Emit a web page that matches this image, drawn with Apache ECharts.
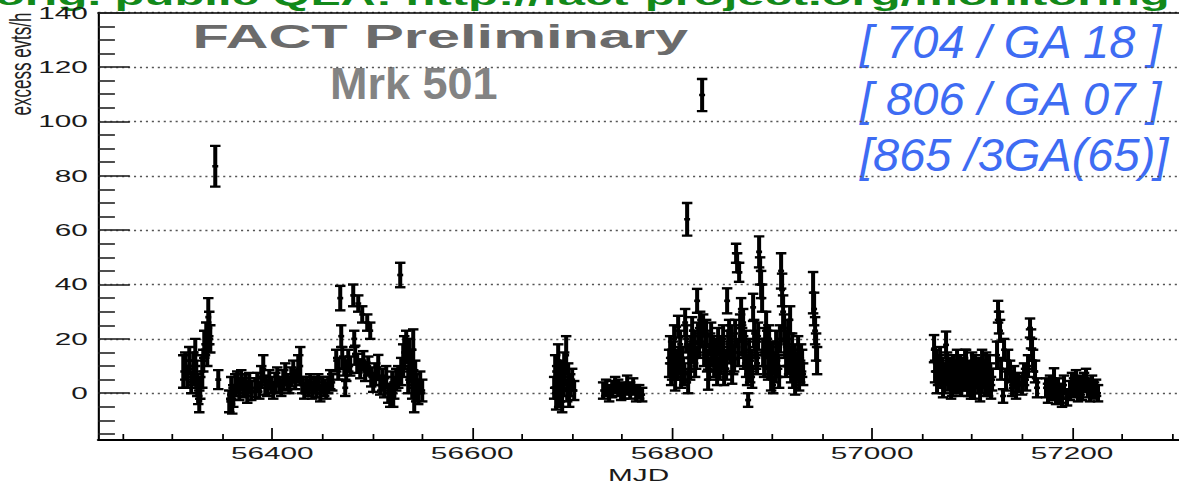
<!DOCTYPE html>
<html>
<head>
<meta charset="utf-8">
<script src="https://cdn.jsdelivr.net/npm/echarts@6/dist/echarts.min.js"></script>
<style>
  html, body { margin: 0; padding: 0; background: #fff; overflow: hidden; }
  /* The whole figure is drawn narrow and widened horizontally, like the original plot image */
  #chart { width: 674px; height: 481px; transform: scaleX(1.749258); transform-origin: 0 0; }
</style>
</head>
<body>
<div id="chart"></div>
<script>
// Mrk 501 excess rate light curve, rows are [MJD, excess evts/h, error]
const season2013 = [
  [56311, 8, 6], [56313, 10, 5], [56315, 6, 4], [56317, 12, 5], [56319, 4, 4],
  [56321, 9, 6], [56323, 15, 5], [56324, 7, 5], [56325, 3, 4], [56326, 0, 4],
  [56327, -3, 4], [56328, 2, 4], [56330, 8, 6], [56331, 12, 4], [56332, 18, 5],
  [56334, 21, 5], [56335, 14, 4], [56336, 28, 7], [56337, 24, 6], [56338, 20, 5],
  [56343, 83.5, 7.5], [56346, 5, 3.5],
  [56357, -3, 4], [56359, 2, 4], [56360, -4, 3.5], [56361, -1, 4], [56363, 3, 4],
  [56365, 4, 4], [56367, 1, 3.5], [56369, 5, 3.5], [56371, 2, 3.5], [56373, 3, 4],
  [56375, 0, 3.5], [56377, 4, 3.5], [56379, 1, 3.5],
  [56383, 2, 3.5], [56385, 4, 3.5], [56387, 1, 3], [56389, 6, 4], [56391, 9, 5],
  [56393, 3, 3.5], [56395, 2, 3], [56397, 5, 3.5], [56399, 3, 3], [56401, 1, 3],
  [56403, 4, 3.5], [56405, 6, 3.5], [56407, 3, 3], [56409, 2, 3], [56411, 5, 3.5],
  [56413, 7, 4], [56415, 4, 3], [56417, 3, 3], [56419, 6, 3.5], [56421, 8, 4],
  [56423, 5, 3.5], [56426, 9, 5], [56428, 10, 7], [56430, 3, 3],
  [56432, 1, 3], [56434, 3, 3], [56436, 2, 3], [56438, 4, 3], [56440, 1, 3],
  [56442, 3, 3], [56444, 2, 3.5], [56446, 4, 3], [56448, 0, 3], [56450, 3, 3],
  [56452, 2, 3], [56454, 1, 3], [56456, 3, 3], [56458, 5, 3.5], [56460, 4, 3],
  [56464, 12, 4], [56466, 9, 4], [56468, 35, 4.5], [56469, 21, 4], [56470, 13, 4],
  [56472, 10, 3.5], [56473, 2, 3], [56474, 8, 3.5], [56476, 12, 4], [56478, 10, 3.5],
  [56481, 36, 4], [56482, 20, 3], [56483, 14, 3.5], [56485, 11, 3.5], [56486, 33, 3],
  [56488, 9, 3.5], [56490, 29, 3], [56491, 12, 3.5], [56493, 8, 3.5], [56495, 26, 3],
  [56496, 10, 3.5], [56498, 23, 3], [56499, 6, 3.5],
  [56501, 4, 3.5], [56503, 7, 4], [56506, 9.5, 4.6], [56508, 3, 3.5], [56510, 5, 4],
  [56512, 2, 3.5], [56514, 6, 4], [56516, 0, 3.5], [56518, -1, 4], [56520, 4, 4],
  [56521, -1, 4], [56522, 2, 4], [56524, 5, 4], [56526, 6, 4], [56528, 43.5, 4.5],
  [56529, 8, 5], [56531, 12, 6], [56532, 15, 6], [56534, 17, 6], [56536, 5, 5],
  [56537, 14, 6], [56539, 10, 6], [56540, 3, 5], [56541, 16, 7.5], [56542, -1, 6],
  [56543, 7, 5], [56544, 2, 5], [56546, 0, 4], [56548, 4, 4], [56550, 1, 4]
];

const season2014 = [
  [56682, 2, 4], [56683, 8, 6], [56684, -2, 4], [56685, 5, 5], [56686, 12, 6],
  [56687, 0, 5], [56688, 3, 4], [56689, 7, 5], [56690, -3, 4], [56691, 4, 5],
  [56692, 9, 6], [56694, 14, 7], [56695, 1, 4], [56696, 6, 5], [56697, -1, 4],
  [56698, 3, 4], [56700, 5, 4], [56702, 1, 3.5],
  [56731, 1, 3], [56734, 2, 3], [56737, 0, 3], [56740, 1.5, 3], [56743, 3, 3],
  [56746, 2, 3], [56749, 0.5, 3], [56752, 1, 3], [56755, 3, 3.5], [56758, 1, 3],
  [56761, 2.5, 3], [56764, 0, 3], [56767, 0.5, 2.5], [56770, -0.5, 2.5],
  [56797, 11, 5], [56798, 16, 5], [56799, 8, 5], [56800, 9, 4], [56801, 14, 5],
  [56802, 20, 5], [56803, 5, 4], [56804, 12, 4], [56805, 10, 5], [56806, 24.5, 4],
  [56807, 12, 5], [56808, 18, 5], [56809, 6, 4], [56810, 13, 4], [56811, 9, 4],
  [56812, 7, 4], [56813, 26, 5], [56814, 20, 5], [56815, 64, 6], [56816, 4, 4],
  [56817, 13, 5], [56818, 9, 4], [56819, 17, 4], [56820, 23, 5], [56821, 15, 4],
  [56822, 19, 4], [56823, 10, 4], [56824, 13, 4], [56825, 34, 4.4], [56826, 22, 4],
  [56827, 17, 4], [56828, 27, 3], [56829, 21, 4], [56830, 109.7, 5.9], [56831, 25, 4],
  [56832, 14, 4], [56833, 19, 4], [56834, 22, 5], [56835, 12, 4], [56836, 5, 3.7],
  [56837, 9, 4], [56838, 18, 4], [56839, 21, 5], [56840, 14, 4], [56841, 17, 4],
  [56842, 10, 4], [56843, 12, 4], [56844, 16, 4], [56845, 7, 4], [56846, 19, 5],
  [56847, 9, 4], [56848, 11, 4], [56849, 16, 5], [56850, 13, 4], [56851, 20, 5],
  [56852, 6, 3], [56853, 12, 4], [56854, 9, 4], [56855, 34, 4.6], [56856, 18, 5],
  [56857, 23, 4], [56858, 16, 5], [56859, 20, 5], [56860, 8, 4.5], [56861, 11, 4],
  [56862, 13, 5], [56863, 22, 5], [56864, 51.5, 3.5], [56865, 48, 3.5], [56866, 15, 5],
  [56867, 44.5, 3.5], [56868, 24, 5], [56869, 30, 5], [56870, 19, 5], [56871, 26, 5],
  [56872, 14, 5], [56873, 18, 5], [56874, 10, 4], [56875, 7, 4], [56876, -2.5, 2.5],
  [56877, 15, 5], [56878, 9, 5], [56879, 12, 4], [56880, 6, 4], [56881, 31.6, 5],
  [56882, 22, 5], [56883, 18, 5], [56884, 14, 5], [56885, 11, 4], [56886, 21, 5],
  [56887, 52, 5.7], [56888, 45, 5], [56889, 40, 5], [56890, 35, 5], [56891, 15, 5],
  [56892, 10, 4], [56893, 19, 5], [56894, 25, 5], [56895, 18, 5], [56896, 9, 4],
  [56897, 20, 5], [56898, 12, 5], [56899, 5, 4], [56900, 14, 5], [56901, 3, 3],
  [56902, 11, 4], [56903, 8, 4], [56904, 18, 5], [56905, 14, 5], [56906, 10, 4],
  [56907, 6, 4], [56908, 20, 5], [56909, 45, 6.5], [56910, 38, 6], [56911, 30, 6],
  [56912, 24, 5], [56913, 18, 5], [56914, 10, 4], [56915, 15, 5], [56916, 22, 5],
  [56917, 12, 5], [56918, 27, 5], [56919, 8, 4], [56920, 17, 5], [56921, 6, 4],
  [56922, 13, 5], [56923, 3, 3.5], [56924, 9, 4], [56925, 10, 5], [56926, 16, 5],
  [56927, 5, 4], [56928, 8, 4], [56929, 13, 5], [56930, 11, 5], [56931, 7, 4],
  [56941, 37, 7.6], [56942, 31, 6], [56943, 23, 5], [56944, 17, 5], [56945, 12, 5]
];

const season2015 = [
  [57062, 16.4, 5], [57063, 8, 4], [57064, 12, 4], [57065, 4, 4], [57066, 7, 4],
  [57067, 10, 4], [57068, 13, 4], [57069, 6, 4], [57070, 9, 4], [57071, 2, 3.5],
  [57072, 4, 4], [57073, 7, 4], [57074, 17.8, 4.9], [57075, 11, 4], [57076, 5, 4],
  [57077, 8, 4], [57078, 9, 4], [57079, 2, 4], [57080, 3, 4], [57081, 10, 4],
  [57082, 6, 4], [57083, 4, 4], [57084, 8, 4], [57085, 12, 4], [57086, 4, 4],
  [57087, 6, 4], [57088, 10, 4], [57089, 3, 4], [57090, 7, 4], [57091, 9, 4],
  [57092, 5, 4], [57093, 12, 4], [57094, 9, 7], [57095, 5, 4], [57096, 3, 4],
  [57097, 8, 4], [57098, 6, 4], [57099, 2, 4], [57100, 11, 4], [57101, 7, 4],
  [57102, 2, 4], [57103, 10, 4], [57104, 8, 4], [57105, 6, 4], [57106, 4, 4],
  [57107, 9, 4], [57108, 1, 4], [57109, 4, 4], [57110, 12, 4], [57111, 8, 4],
  [57112, 6, 4], [57113, 3, 4], [57114, 10, 5], [57115, 6, 4], [57116, 3, 4],
  [57117, 10, 4], [57118, 7, 4], [57119, 2, 4], [57120, 5, 4],
  [57125, 14, 5], [57126, 30, 4], [57127, 26, 4], [57128, 23, 4], [57129, 9, 4],
  [57131, -1, 2.5], [57132, 16, 4], [57134, 5, 4], [57136, 12, 4], [57138, 8, 4],
  [57140, 3, 4], [57142, 6, 4], [57144, 2, 4], [57146, 4, 3.5],
  [57150, 3, 3.5], [57152, 7, 4], [57154, 5, 4], [57156, 10, 4], [57158, 24, 3.5],
  [57159, 20, 3.5], [57160, 16, 4], [57161, 12, 4], [57163, 8, 4], [57165, 2, 3.5],
  [57174, 2, 3.5], [57176, 0, 3.5], [57178, 3, 3.5], [57180, 1, 3.5], [57182, 5.5, 3.7],
  [57184, -1, 3], [57186, 2, 3.5], [57188, 0, 3.5], [57190, -2, 3], [57192, 3, 3.5],
  [57195, -1.5, 3], [57198, 1, 3.5], [57200, 4, 3.5], [57202, 2, 3.5], [57204, 5, 3.5],
  [57206, 0, 3], [57208, 3, 3.5], [57210, 1, 3.5], [57212, 4, 3.5], [57214, 5.5, 3.5],
  [57216, 2, 3.5], [57218, 0, 3], [57220, 3, 3.5], [57222, 1, 3], [57224, 2, 3],
  [57226, 0, 3]
];

// Axis ticks and labels
const yMajorTicks = [0, 20, 40, 60, 80, 100, 120, 140];
const yMinorTicks = [-15, -10, -5, 5, 10, 15, 25, 30, 35, 45, 50, 55, 65, 70, 75,
                     85, 90, 95, 105, 110, 115, 125, 130, 135];
const xMajorTicks = [56400, 56600, 56800, 57000, 57200];
const xMinorTicks = [56250, 56300, 56350, 56450, 56500, 56550, 56650, 56700, 56750,
                     56850, 56900, 56950, 57050, 57100, 57150, 57250, 57300];

const annotations = ['[ 704 / GA 18 ]', '[ 806 / GA 07 ]', '[865 /3GA(65)]'];
const headerLine = 'orig. public QLA: http://fact-project.org/monitoring';

const K = 1179 / 674;           // horizontal widening applied to the figure
const X_MIN = 56226, X_MAX = 57307;
const Y_MIN = -17.2, Y_MAX = 140;
const FONT = '"Liberation Sans", Arial, Helvetica, sans-serif';

function renderErrorBar(params, api) {
  const x = api.value(0), y = api.value(1), e = api.value(2);
  const hi = api.coord([x, y + e]);
  const lo = api.coord([x, y - e]);
  const c = api.coord([x, y]);
  const cap = 3;
  const capStyle = { stroke: '#000', lineWidth: 2.4 };
  return {
    type: 'group',
    children: [
      { type: 'line', shape: { x1: c[0], y1: hi[1], x2: c[0], y2: lo[1] }, style: { stroke: '#000', lineWidth: 2.3 } },
      { type: 'line', shape: { x1: c[0] - cap, y1: hi[1], x2: c[0] + cap, y2: hi[1] }, style: capStyle },
      { type: 'line', shape: { x1: c[0] - cap, y1: lo[1], x2: c[0] + cap, y2: lo[1] }, style: capStyle },
      { type: 'rect', shape: { x: c[0] - 1.7, y: c[1] - 1.3, width: 3.4, height: 2.6 }, style: { fill: '#000' } }
    ]
  };
}

function seasonSeries(name, rows) {
  return {
    name: name, type: 'custom', renderItem: renderErrorBar, data: rows,
    xAxisIndex: 0, yAxisIndex: 0, clip: true, silent: true,
    encode: { x: 0, y: 1 }
  };
}

function plainNumber(v) { return String(v); }

const chart = echarts.init(document.getElementById('chart'), null, { renderer: 'svg' });

const labelText = { fontFamily: FONT, fontSize: 17, color: '#1a1a1a' };

function textStyle(text, font, fill, align) {
  return { text: text, font: font, fill: fill, align: align, verticalAlign: 'middle',
           textAlign: align, textVerticalAlign: 'middle' };
}

chart.setOption({
  animation: false,
  backgroundColor: '#fff',
  grid: { left: 98.3 / K, right: 0, top: 12.7, bottom: 41, containLabel: false, outerBoundsMode: 'none' },
  xAxis: [
    {
      type: 'value', min: X_MIN, max: X_MAX, position: 'bottom',
      axisLine: { onZero: false, lineStyle: { color: '#000', width: 1.8 } },
      axisTick: { show: true, inside: true, length: 12, customValues: xMajorTicks, lineStyle: { color: '#000', width: 1 } },
      axisLabel: Object.assign({ customValues: xMajorTicks, margin: 5, formatter: plainNumber }, labelText),
      splitLine: { show: false },
      name: 'MJD', nameLocation: 'middle', nameGap: 19,
      nameTextStyle: labelText
    },
    {
      type: 'value', min: X_MIN, max: X_MAX, position: 'bottom',
      axisLine: { show: false, onZero: false },
      axisTick: { show: true, inside: true, length: 6, customValues: xMinorTicks, lineStyle: { color: '#000', width: 1 } },
      axisLabel: { show: false },
      splitLine: { show: false }
    },
    {
      type: 'value', min: X_MIN, max: X_MAX, position: 'top',
      axisLine: { show: true, onZero: false, lineStyle: { color: '#000', width: 1.5 } },
      axisTick: { show: false }, axisLabel: { show: false }, splitLine: { show: false }
    }
  ],
  yAxis: [
    {
      type: 'value', min: Y_MIN, max: Y_MAX, position: 'left',
      axisLine: { show: true, onZero: false, lineStyle: { color: '#000', width: 1.2 } },
      axisTick: { show: true, inside: true, length: 18, customValues: yMajorTicks, lineStyle: { color: '#222', width: 1.6 } },
      axisLabel: Object.assign({ customValues: yMajorTicks, margin: 6, formatter: plainNumber }, labelText),
      splitLine: { show: true, lineStyle: { color: '#555', width: 1.3, type: [1.2, 2.2] } }
    },
    {
      type: 'value', min: Y_MIN, max: Y_MAX, position: 'left',
      axisLine: { show: false, onZero: false },
      axisTick: { show: true, inside: true, length: 9.5, customValues: yMinorTicks, lineStyle: { color: '#222', width: 1.6 } },
      axisLabel: { show: false },
      splitLine: { show: false }
    }
  ],
  series: [
    seasonSeries('2013', season2013),
    seasonSeries('2014', season2014),
    seasonSeries('2015', season2015)
  ],
  graphic: [
    {
      type: 'text', x: 11.8, y: 64, rotation: Math.PI / 2, silent: true,
      style: textStyle('excess evts/h', '17px ' + FONT, '#222', 'center')
    },
    {
      type: 'text', x: 110, y: 36, silent: true,
      style: textStyle('FACT Preliminary', 'bold 34px ' + FONT, '#6b6b6b', 'left')
    },
    {
      type: 'text', x: 330 / K, y: 84, scaleX: 1 / K, silent: true,
      style: textStyle('Mrk 501', 'bold 45px ' + FONT, '#838383', 'left')
    },
    {
      type: 'text', x: -2.9, y: -5, silent: true,
      style: textStyle(headerLine, 'bold 28px ' + FONT, '#12891a', 'left')
    }
  ].concat(annotations.map(function (t, i) {
    return {
      type: 'text', x: 860 / K, y: 42 + i * 56.5, scaleX: 1 / K, silent: true,
      style: textStyle(t, 'italic 47px ' + FONT, '#3e6cf3', 'left')
    };
  }))
});
</script>
</body>
</html>
